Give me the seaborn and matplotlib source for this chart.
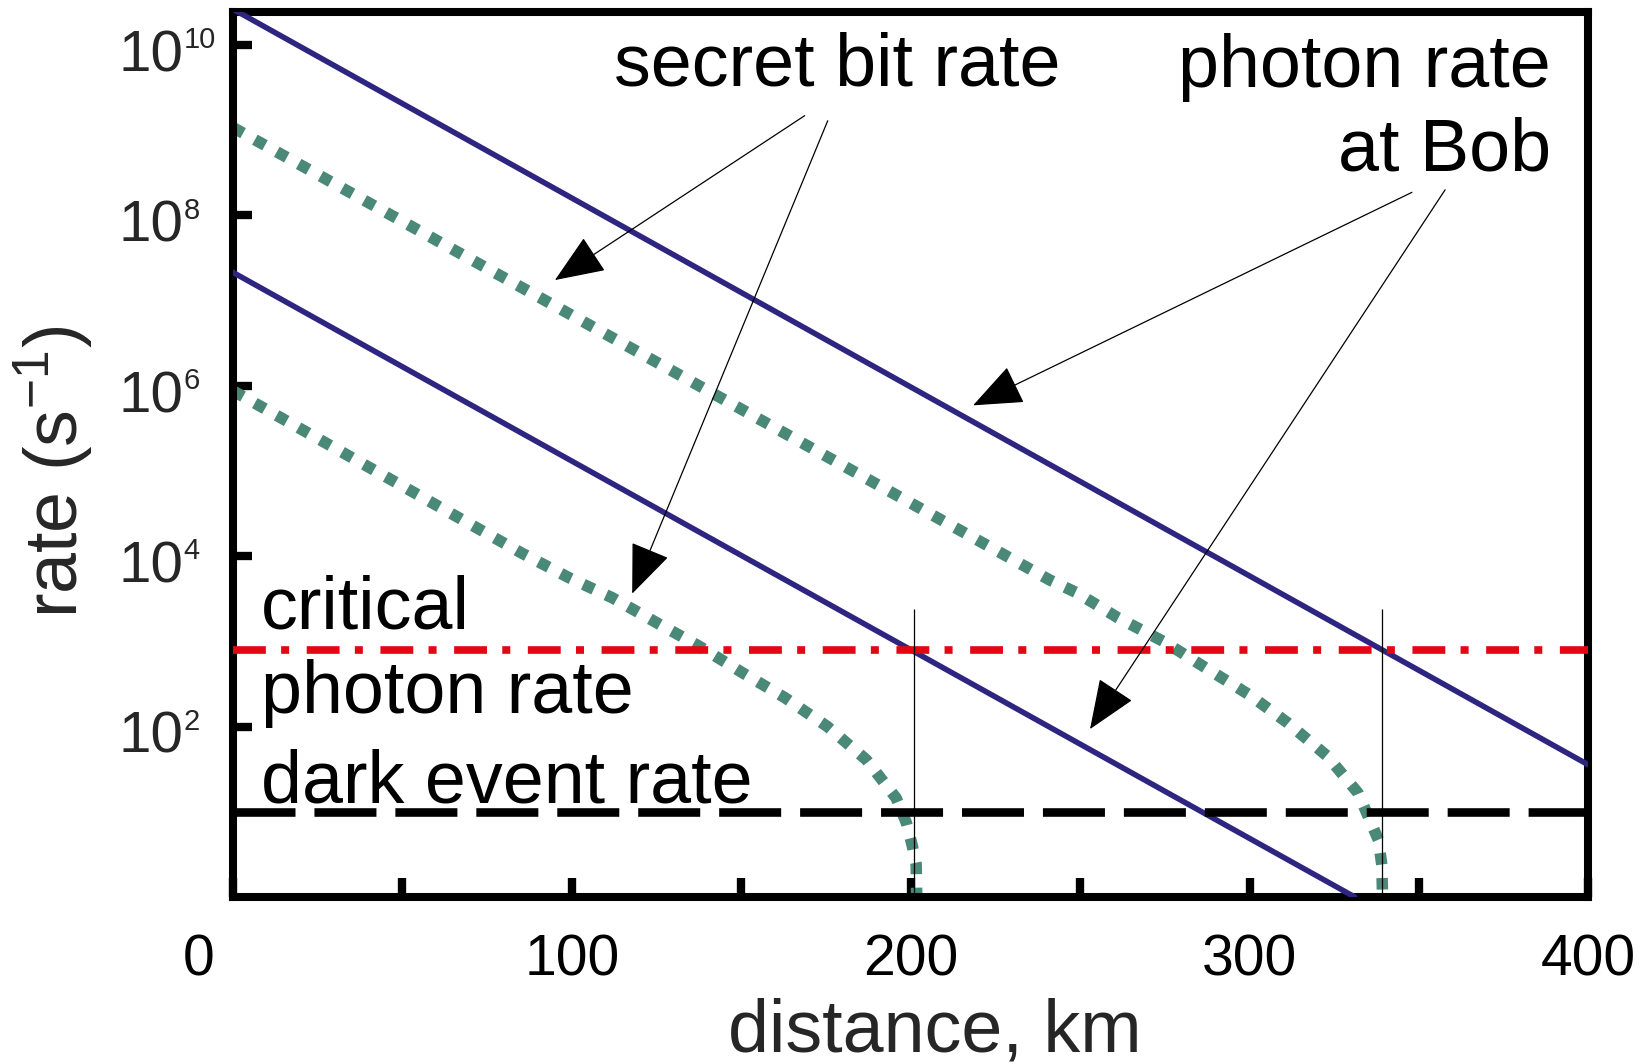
import numpy as np
import pandas as pd
import matplotlib
matplotlib.use("Agg")
import matplotlib.pyplot as plt
import matplotlib.transforms as mtransforms
from matplotlib.ticker import NullLocator
import seaborn as sns

# photon rate at Bob (log10 of rate in s^-1), two launch powers
photon_hi_km = [0, 400]
photon_hi_log = [10.42, 1.55]
photon_lo_km = [0, 331]
photon_lo_log = [7.33, 0.0]

# secret bit rate
secret_hi_km = [0, 241, 249, 261, 275, 287, 300, 311, 323, 332, 338, 339, 339.3]
secret_hi_log = [9.03, 3.72, 3.57, 3.28, 2.99, 2.69, 2.37, 2.05, 1.65, 1.22, 0.67, 0.38, -0.1]
secret_lo_km = [0, 85, 99, 112, 124.5, 137.7, 150.4, 162.8, 175.4, 186.9, 195.7, 198.7, 200.4, 201.6, 201.8]
secret_lo_log = [5.94, 4.04, 3.75, 3.51, 3.23, 2.94, 2.63, 2.34, 2.0, 1.61, 1.16, 0.87, 0.61, 0.38, -0.1]

critical_rate = 800
dark_rate = 10
cutoff_km = [201, 339]
cutoff_top = 2400

xtick_vals = list(range(0, 401, 50))
ytick_exp = [2, 4, 6, 8, 10]

BLUE = "#2e2580"
TEAL = "#4a8878"
RED = "#e30613"

sns.set_theme(style="white")
plt.rcParams["font.family"] = ["Liberation Sans", "DejaVu Sans"]
plt.rcParams["mathtext.fontset"] = "custom"
plt.rcParams["mathtext.rm"] = "Liberation Sans"

fig = plt.figure(figsize=(16.41, 10.64), dpi=100)
ax = fig.add_axes([0.142, 0.157, 0.826, 0.832])

# solid photon-rate lines
for km, lg in [(photon_hi_km, photon_hi_log), (photon_lo_km, photon_lo_log)]:
    sns.lineplot(x=km, y=10 ** np.array(lg), ax=ax, color=BLUE, lw=4,
                 estimator=None, sort=False, zorder=3)

# dotted secret-bit-rate curves
for km, lg in [(secret_hi_km, secret_hi_log), (secret_lo_km, secret_lo_log)]:
    sns.lineplot(x=km, y=10 ** np.array(lg), ax=ax, color=TEAL, lw=8.3,
                 linestyle=(0, (1, 1.17)), dash_capstyle="butt",
                 estimator=None, sort=False, zorder=2)

ax.axhline(critical_rate, color=RED, lw=5.5, linestyle=(0, (4.3, 2.0, 1.05, 2.3)),
           dash_capstyle="butt", zorder=4)
ax.axhline(dark_rate, color="black", lw=6.2, linestyle=(0, (7.2, 2.2)),
           dash_capstyle="butt", zorder=4)
ax.vlines(cutoff_km, 1, cutoff_top, color="black", lw=0.9, zorder=5)

ax.set_xlim(0, 400)
ax.set_yscale("log")
ax.set_ylim(1, 10 ** 10.39)

ax.set_xticks(xtick_vals)
ax.set_xticklabels([str(v) if v % 100 == 0 else "" for v in xtick_vals])
ax.set_yticks([10.0 ** e for e in ytick_exp])
ax.set_yticklabels([])
ax.yaxis.set_minor_locator(NullLocator())
ax.xaxis.set_minor_locator(NullLocator())

ax.tick_params(axis="both", direction="in", length=13.5, width=6, colors="black",
               labelsize=41, bottom=True, left=True, top=False, right=False)
ax.tick_params(axis="x", pad=26)
for s in ax.spines.values():
    s.set_linewidth(5.8)
    s.set_color("black")

# y tick labels: "10" with a small exponent, base left-aligned like the original
for e in ytick_exp:
    ax.annotate("10", xy=(0, 10.0 ** e), xycoords=("axes fraction", "data"),
                xytext=(-36, -19), textcoords="offset points",
                ha="right", va="baseline", fontsize=42)
    ax.annotate(str(e), xy=(0, 10.0 ** e), xycoords=("axes fraction", "data"),
                xytext=(-35.5, -2.4), textcoords="offset points",
                ha="left", va="baseline", fontsize=21)

# the "0" label sits left of the axis corner in the original
zero_lab = ax.xaxis.get_major_ticks()[0].label1
zero_lab.set_transform(zero_lab.get_transform() +
                       mtransforms.ScaledTranslation(-0.34, 0, fig.dpi_scale_trans))

ax.set_xlabel("distance, km", fontsize=53)
ax.set_ylabel(r"rate (s$^{\mathregular{-1}}$)", fontsize=53)
ax.xaxis.set_label_coords(0.518, -0.114)
ax.yaxis.set_label_coords(-0.101, 0.48)

txt = dict(fontsize=53, color="black", va="baseline", zorder=6)
ax.text(178.3, 10 ** 9.52, "secret bit rate", ha="center", **txt)
ax.text(388.9, 10 ** 9.51, "photon rate", ha="right", **txt)
ax.text(388.9, 10 ** 8.53, "at Bob", ha="right", **txt)
ax.text(8.3, 10 ** 3.15, "critical", ha="left", **txt)
ax.text(8.3, 10 ** 2.16, "photon rate", ha="left", **txt)
ax.text(8.3, 10 ** 1.11, "dark event rate", ha="left", **txt)

arrow = dict(arrowstyle="-|>,head_length=1.6,head_width=0.65", color="black",
             lw=0.9, shrinkA=0, shrinkB=0, mutation_scale=20)
for tail, tip in [((168.7, 9.17), (95.0, 7.24)),
                  ((175.5, 9.11), (117.8, 3.56)),
                  ((347.9, 8.27), (218.4, 5.77)),
                  ((357.7, 8.30), (252.9, 1.97))]:
    ax.annotate("", xy=(tip[0], 10 ** tip[1]), xytext=(tail[0], 10 ** tail[1]),
                arrowprops=arrow, zorder=7)

fig.savefig("out.png", dpi=100)
